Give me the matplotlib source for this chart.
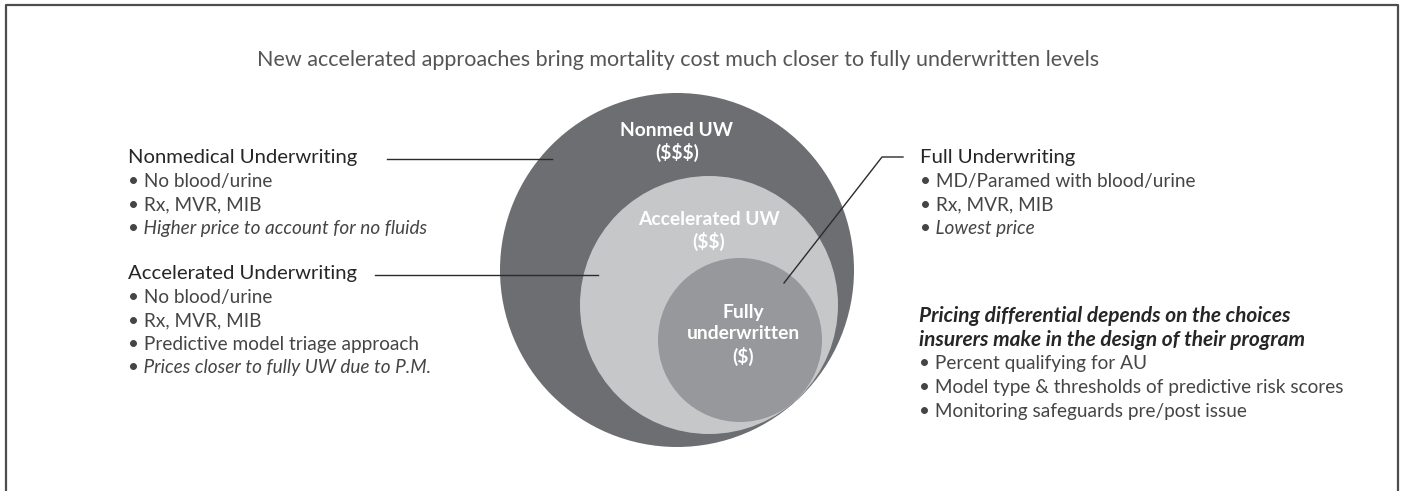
import matplotlib
matplotlib.use("Agg")
import matplotlib.pyplot as plt
from matplotlib.patches import Circle
from matplotlib.lines import Line2D

plt.rcParams["text.parse_math"] = False

# ---------------- data ----------------
title = "New accelerated approaches bring mortality cost much closer to fully underwritten levels"

circle_labels = ["Nonmed UW\n($$$)", "Accelerated UW\n($$)", "Fully\nunderwritten\n($)"]
circle_colors = ["#6d6e71", "#c6c7c9", "#97989b"]

nonmed_heading = "Nonmedical Underwriting"
nonmed_items = ["No blood/urine", "Rx, MVR, MIB"]
nonmed_italic = "Higher price to account for no fluids"

accel_heading = "Accelerated Underwriting"
accel_items = ["No blood/urine", "Rx, MVR, MIB", "Predictive model triage approach"]
accel_italic = "Prices closer to fully UW due to P.M."

full_heading = "Full Underwriting"
full_items = ["MD/Paramed with blood/urine", "Rx, MVR, MIB"]
full_italic = "Lowest price"

pricing_heading = ["Pricing differential depends on the choices",
                   "insurers make in the design of their program"]
pricing_items = ["Percent qualifying for AU",
                 "Model type & thresholds of predictive risk scores",
                 "Monitoring safeguards pre/post issue"]

# ---------------- figure ----------------
W, H = 1403, 491
fig = plt.figure(figsize=(W / 100, H / 100), dpi=100)
ax = fig.add_axes([0, 0, 1, 1])
ax.set_xlim(0, W)
ax.set_ylim(H, 0)
ax.set_aspect("equal")
ax.axis("off")

FONT = "Lato"
TXT = "#262626"
BUL = "#454545"

# frame (top, left, right)
ax.add_line(Line2D([6, 6, 1398, 1398], [H + 5, 5, 5, H + 5], color="#4d4d4d", lw=1.6))

# title
ax.text(678, 60, title, ha="center", va="center", fontsize=15.5, family=FONT,
        fontweight="normal", color="#555555")

# circles
circ_geom = [(677, 270, 177), (709, 305, 129), (740, 340, 82)]
for (cx, cy, r), col in zip(circ_geom, circle_colors):
    ax.add_patch(Circle((cx, cy), r, facecolor=col, edgecolor="none", zorder=2))

LFS = 13.9
ax.text(677, 142, circle_labels[0], ha="center", va="center", fontsize=LFS, family=FONT,
        fontweight="bold", color="white", linespacing=1.3, zorder=5)
ax.text(709, 231, circle_labels[1], ha="center", va="center", fontsize=LFS, family=FONT,
        fontweight="bold", color="white", linespacing=1.3, zorder=5)
ax.text(743, 335, circle_labels[2], ha="center", va="center", fontsize=LFS, family=FONT,
        fontweight="bold", color="white", linespacing=1.3, zorder=5)

# leader lines
lc = "#2b2b2b"
ax.add_line(Line2D([387, 552], [159, 159], color=lc, lw=1.0, zorder=6))
ax.add_line(Line2D([375, 598], [275, 275], color=lc, lw=1.0, zorder=6))
ax.add_line(Line2D([784, 882, 903], [283, 157, 157], color=lc, lw=1.0, zorder=6))

HFS = 14.6   # headings
BFS = 13.7   # bullets
PFS = 15.0   # bold italic heading
STEP = 23.5
OFF = 6.5  # baseline offset from visual centre


def block(x, y0, heading, items, italic=None, bold_heading=False):
    y = y0
    heads = heading if isinstance(heading, list) else [heading]
    for h in heads:
        ax.text(x, y + OFF, h, ha="left", va="baseline",
                fontsize=PFS if bold_heading else HFS, family=FONT,
                fontweight="bold" if bold_heading else "normal",
                style="italic" if bold_heading else "normal", color=TXT)
        y += STEP
    for it in items:
        ax.text(x, y + OFF, "\u2022 " + it, ha="left", va="baseline", fontsize=BFS,
                family=FONT, fontweight="normal", color=BUL)
        y += STEP
    if italic:
        ax.text(x, y + OFF, "\u2022 " + italic, ha="left", va="baseline", fontsize=BFS,
                family=FONT, fontweight="normal", style="italic", color=BUL)


block(128, 157, nonmed_heading, nonmed_items, nonmed_italic)
block(128, 273, accel_heading, accel_items, accel_italic)
block(920, 157, full_heading, full_items, full_italic)
block(919, 316, pricing_heading, pricing_items, bold_heading=True)

fig.savefig("out.png", dpi=100)
